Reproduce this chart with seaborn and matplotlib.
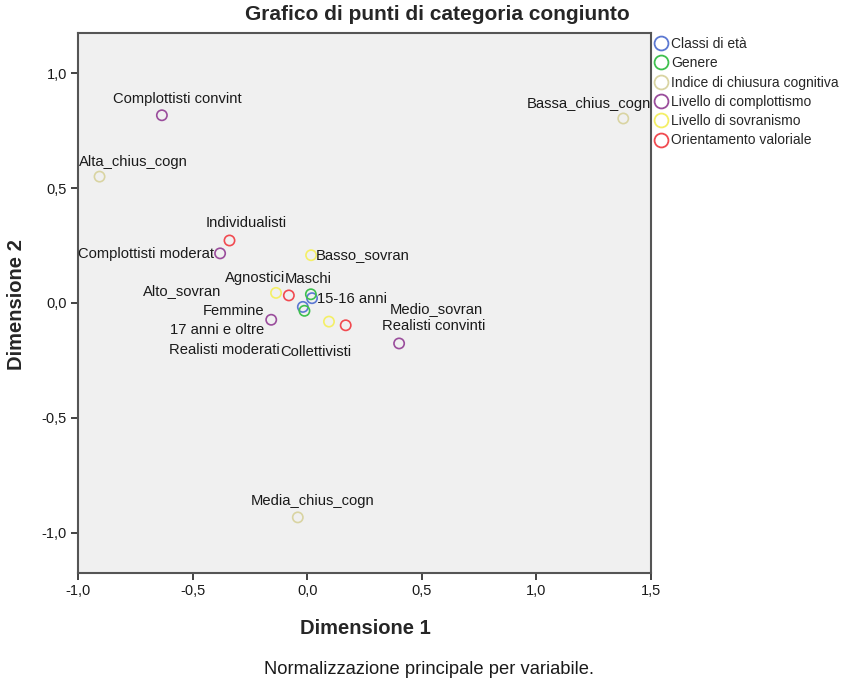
import matplotlib
matplotlib.use("Agg")
import matplotlib.pyplot as plt
from matplotlib.lines import Line2D
import seaborn as sns
import pandas as pd

# ---------------- data ----------------
groups = ["Classi di età", "Genere", "Indice di chiusura cognitiva",
          "Livello di complottismo", "Livello di sovranismo", "Orientamento valoriale"]
colors = ["#5b78d2", "#3fc04e", "#d9d4a2", "#9a4d9c", "#f4ef66", "#f14a50"]

labels = ["15-16 anni", "17 anni e oltre",
          "Maschi", "Femmine",
          "Alta_chius_cogn", "Media_chius_cogn", "Bassa_chius_cogn",
          "Complottisti convint", "Complottisti moderat", "Realisti moderati", "Realisti convinti",
          "Alto_sovran", "Medio_sovran", "Basso_sovran",
          "Individualisti", "Agnostici", "Collettivisti"]
group_of = ["Classi di età"] * 2 + ["Genere"] * 2 + ["Indice di chiusura cognitiva"] * 3 + \
           ["Livello di complottismo"] * 4 + ["Livello di sovranismo"] * 3 + ["Orientamento valoriale"] * 3
dim1 = [0.021, -0.019,
        0.016, -0.012,
        -0.906, -0.041, 1.379,
        -0.634, -0.380, -0.157, 0.401,
        -0.136, 0.095, 0.017,
        -0.339, -0.080, 0.168]
dim2 = [0.021, -0.017,
        0.038, -0.034,
        0.550, -0.933, 0.803,
        0.817, 0.216, -0.073, -0.176,
        0.044, -0.081, 0.208,
        0.272, 0.033, -0.097]

tick_vals_x = [-1.0, -0.5, 0.0, 0.5, 1.0, 1.5]
tick_lbls_x = ["-1,0", "-0,5", "0,0", "0,5", "1,0", "1,5"]
tick_vals_y = [-1.0, -0.5, 0.0, 0.5, 1.0]
tick_lbls_y = ["-1,0", "-0,5", "0,0", "0,5", "1,0"]

# label placement (offset in pixels from the point, horizontal alignment)
label_offsets = {
    "15-16 anni": (5, -1, "left"),
    "17 anni e oltre": (-39, -23, "right"),
    "Maschi": (-26, 15, "left"),
    "Femmine": (-40, 0, "right"),
    "Alta_chius_cogn": (-21, 15, "left"),
    "Media_chius_cogn": (-47, 16, "left"),
    "Bassa_chius_cogn": (28, 14, "right"),
    "Complottisti convint": (-49, 16, "left"),
    "Complottisti moderat": (-6, -1, "right"),
    "Realisti moderati": (9, -30, "right"),
    "Realisti convinti": (-17, 17, "left"),
    "Alto_sovran": (-55, 2, "right"),
    "Medio_sovran": (61, 13, "left"),
    "Basso_sovran": (5, 0, "left"),
    "Individualisti": (-24, 17, "left"),
    "Agnostici": (-4, 17, "right"),
    "Collettivisti": (-65, -27, "left"),
}

df = pd.DataFrame({"Dimensione 1": dim1, "Dimensione 2": dim2,
                   "Gruppo": group_of, "Etichetta": labels})

# ---------------- figure ----------------
sns.set_style("white")
plt.rcParams["font.family"] = ["Liberation Sans", "DejaVu Sans"]

W, H = 860, 682
fig = plt.figure(figsize=(W / 100, H / 100), dpi=100)
ax = fig.add_axes([78 / W, 1 - 573 / H, 573 / W, 540 / H])
ax.set_facecolor("#f0f0f0")

sns.scatterplot(data=df, x="Dimensione 1", y="Dimensione 2", hue="Gruppo",
                hue_order=groups, palette=colors, s=55, marker="o",
                linewidth=1.2, legend=False, ax=ax, zorder=3)
coll = ax.collections[0]
fcs = coll.get_facecolors()
coll.set_edgecolors(fcs)
coll.set_facecolors("none")

for lab, x, y in zip(labels, dim1, dim2):
    dx, dy, ha = label_offsets[lab]
    ax.annotate(lab, (x, y), xytext=(dx, dy), textcoords="offset pixels",
                ha=ha, va="center", fontsize=10.6, color="#1a1a1a", zorder=4,
                annotation_clip=False)

ax.set_xlim(-1.0, 1.5)
ax.set_ylim(-1.175, 1.175)
ax.set_xticks(tick_vals_x, tick_lbls_x)
ax.set_yticks(tick_vals_y, tick_lbls_y)
ax.tick_params(axis="both", direction="out", length=5, width=1.3, color="#333333",
               labelsize=10.5, labelcolor="#1a1a1a", pad=3, bottom=True, left=True)
for sp in ax.spines.values():
    sp.set_color("#555555")
    sp.set_linewidth(1.5)
    sp.set_visible(True)

ax.set_xlabel("")
ax.set_ylabel("")
fig.text(365 / W, 1 - 628 / H, "Dimensione 1", ha="center", va="center",
         fontsize=14.5, fontweight="bold")
fig.text(17 / W, 1 - 305 / H, "Dimensione 2", ha="center", va="center",
         rotation=90, fontsize=14.5, fontweight="bold")
fig.text(437 / W, 1 - 14 / H, "Grafico di punti di categoria congiunto",
         ha="center", va="center", fontsize=15, fontweight="bold")
fig.text(429 / W, 1 - 670 / H, "Normalizzazione principale per variabile.",
         ha="center", va="center", fontsize=13.2, color="#1a1a1a")

handles = [Line2D([0], [0], marker="o", linestyle="none", markersize=10,
                  markerfacecolor="none", markeredgecolor=c, markeredgewidth=1.3)
           for c in colors]
fig.legend(handles, groups, loc="upper left", bbox_to_anchor=(655 / W, 1 - 37 / H),
           frameon=False, fontsize=10, handlelength=0.9, handletextpad=0.25,
           labelspacing=0.38, borderaxespad=0, borderpad=0)

fig.savefig("out.png", dpi=100)
